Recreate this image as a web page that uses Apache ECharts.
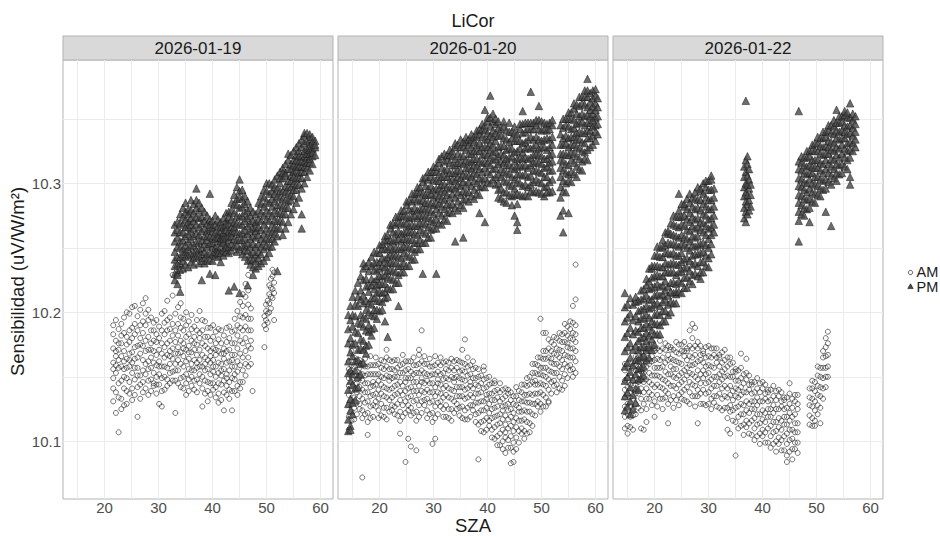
<!DOCTYPE html>
<html>
<head>
<meta charset="utf-8">
<script src="https://cdn.jsdelivr.net/npm/echarts@6/dist/echarts.min.js"></script>
<style>
html,body{margin:0;padding:0;background:#fff;}
#chart{width:940px;height:536px;}
</style>
</head>
<body>
<div id="chart"></div>
<script>
// Facet labels and axis ticks
const panels = ['2026-01-19', '2026-01-20', '2026-01-22'];
const xTicks = [20, 30, 40, 50, 60];
const yTicks = [10.1, 10.2, 10.3];
const xGridValues = [15, 20, 25, 30, 35, 40, 45, 50, 55, 60];
const yGridValues = [10.1, 10.15, 10.2, 10.25, 10.3, 10.35];

// Readings grouped by SZA: each row is [SZA, sensitivity, sensitivity, ...]
const am19 = [
[21.6,10.183,10.161,10.149,10.172,10.131,10.190,10.156,10.141],
[22.1,10.194,10.166,10.153,10.178,10.138,10.122,10.159,10.170],
[22.6,10.187,10.157,10.145,10.171,10.107,10.163,10.176,10.134],
[23.1,10.176,10.191,10.133,10.166,10.147,10.125,10.182,10.158],
[23.6,10.196,10.170,10.156,10.141,10.184,10.162,10.128,10.150],
[24.1,10.181,10.164,10.149,10.129,10.175,10.200,10.157,10.139],
[24.6,10.199,10.177,10.158,10.137,10.168,10.146,10.186,10.163],
[25.1,10.188,10.169,10.153,10.204,10.141,10.180,10.161,10.132],
[25.6,10.205,10.183,10.164,10.148,10.136,10.173,10.157,10.191],
[26.1,10.197,10.174,10.157,10.142,10.186,10.119,10.165,10.151],
[26.6,10.190,10.168,10.151,10.133,10.180,10.202,10.144,10.175],
[27.1,10.207,10.184,10.163,10.146,10.174,10.155,10.193,10.138],
[27.6,10.211,10.190,10.170,10.141,10.178,10.160,10.199,10.152],
[28.1,10.202,10.181,10.162,10.147,10.171,10.136,10.194,10.156],
[28.6,10.196,10.176,10.157,10.139,10.186,10.165,10.148,10.171],
[29.1,10.186,10.170,10.153,10.143,10.161,10.178,10.145,10.192],
[29.6,10.194,10.177,10.159,10.137,10.167,10.150,10.183,10.144],
[30.1,10.189,10.171,10.152,10.129,10.162,10.180,10.144,10.158],
[30.6,10.199,10.176,10.158,10.127,10.168,10.186,10.149,10.139],
[31.1,10.201,10.183,10.165,10.150,10.173,10.140,10.158,10.192],
[31.6,10.209,10.186,10.167,10.148,10.176,10.194,10.157,10.143],
[32.1,10.196,10.178,10.160,10.145,10.187,10.170,10.153,10.166],
[32.6,10.213,10.191,10.172,10.154,10.229,10.182,10.164,10.147],
[33.1,10.199,10.177,10.160,10.122,10.168,10.186,10.147,10.155],
[33.6,10.204,10.182,10.163,10.145,10.173,10.155,10.191,10.168],
[34.1,10.207,10.188,10.169,10.149,10.178,10.160,10.196,10.142],
[34.6,10.195,10.176,10.158,10.141,10.186,10.166,10.150,10.172],
[35.1,10.200,10.181,10.162,10.136,10.171,10.152,10.190,10.145],
[35.6,10.193,10.174,10.156,10.139,10.183,10.164,10.148,10.169],
[36.1,10.198,10.178,10.160,10.143,10.169,10.150,10.187,10.155],
[36.6,10.189,10.171,10.155,10.140,10.181,10.163,10.147,10.176],
[37.1,10.194,10.175,10.157,10.138,10.167,10.186,10.148,10.161],
[37.6,10.201,10.180,10.163,10.145,10.171,10.152,10.158,10.184],
[38.1,10.186,10.167,10.150,10.127,10.176,10.158,10.194,10.141],
[38.6,10.193,10.174,10.155,10.137,10.165,10.147,10.181,10.160],
[39.1,10.181,10.163,10.146,10.131,10.172,10.156,10.188,10.139],
[39.6,10.188,10.170,10.152,10.136,10.161,10.178,10.145,10.166],
[40.1,10.190,10.172,10.154,10.140,10.163,10.145,10.181,10.158],
[40.6,10.185,10.167,10.150,10.134,10.176,10.158,10.142,10.171],
[41.1,10.179,10.161,10.145,10.130,10.170,10.153,10.187,10.137],
[41.6,10.186,10.168,10.151,10.132,10.160,10.176,10.144,10.155],
[42.1,10.182,10.164,10.147,10.124,10.172,10.156,10.138,10.168],
[42.6,10.188,10.170,10.152,10.136,10.161,10.143,10.177,10.149],
[43.1,10.180,10.162,10.146,10.133,10.171,10.155,10.189,10.140],
[43.6,10.185,10.167,10.149,10.124,10.176,10.158,10.139,10.163],
[44.1,10.195,10.176,10.158,10.139,10.167,10.148,10.186,10.152],
[44.6,10.201,10.182,10.162,10.143,10.172,10.154,10.190,10.136],
[45.1,10.208,10.188,10.168,10.146,10.178,10.159,10.197,10.141],
[45.6,10.214,10.196,10.176,10.155,10.205,10.186,10.165,10.146],
[46.1,10.212,10.198,10.180,10.160,10.222,10.189,10.170,10.151],
[46.6,10.229,10.206,10.186,10.165,10.195,10.174,10.217,10.158],
[47.1,10.203,10.186,10.172,10.160,10.195,10.178],
[47.4,10.139],
[49.6,10.190,10.197,10.173],
[49.9,10.194,10.201,10.187,10.206],
[50.2,10.199,10.209,10.192],
[50.5,10.207,10.214,10.221,10.200],
[50.8,10.212,10.219,10.226,10.203],
[51.1,10.218,10.228,10.233,10.211],
[51.4,10.223,10.231,10.194,10.215]
];

const pm19 = [
[33.0,10.262,10.247,10.236,10.225,10.255,10.241,10.268,10.230],
[33.5,10.270,10.258,10.243,10.231,10.222,10.264,10.229,10.251,10.237],
[34.0,10.276,10.262,10.250,10.238,10.216,10.255,10.243,10.269,10.233],
[34.5,10.281,10.268,10.256,10.245,10.234,10.262,10.274,10.249,10.240],
[35.0,10.285,10.272,10.259,10.247,10.237,10.266,10.252,10.278,10.243],
[35.5,10.280,10.270,10.255,10.244,10.235,10.276,10.261,10.249,10.266],
[36.0,10.287,10.273,10.263,10.251,10.239,10.268,10.257,10.279,10.245],
[36.5,10.284,10.271,10.259,10.246,10.237,10.277,10.265,10.252,10.242],
[37.0,10.296,10.281,10.268,10.254,10.243,10.261,10.274,10.248,10.287],
[37.5,10.285,10.273,10.260,10.249,10.238,10.266,10.255,10.279,10.244],
[38.0,10.281,10.269,10.256,10.245,10.225,10.263,10.274,10.250,10.240],
[38.5,10.278,10.265,10.253,10.242,10.259,10.247,10.271,10.238],
[39.0,10.275,10.263,10.251,10.240,10.269,10.256,10.245,10.259],
[39.5,10.292,10.272,10.259,10.246,10.265,10.253,10.230,10.268,10.241],
[40.0,10.271,10.258,10.245,10.263,10.251,10.240,10.266,10.254],
[40.5,10.268,10.257,10.244,10.229,10.262,10.250,10.275,10.247],
[41.0,10.267,10.255,10.243,10.261,10.249,10.272,10.258,10.246],
[41.5,10.270,10.258,10.246,10.263,10.251,10.239,10.266,10.255],
[42.0,10.266,10.254,10.244,10.260,10.273,10.248,10.257,10.262],
[42.5,10.271,10.258,10.247,10.264,10.252,10.277,10.250,10.268],
[43.0,10.278,10.263,10.251,10.269,10.256,10.217,10.246,10.274,10.259],
[43.5,10.285,10.272,10.259,10.248,10.266,10.279,10.253,10.262],
[44.0,10.291,10.277,10.263,10.251,10.270,10.284,10.220,10.257,10.266],
[44.5,10.297,10.283,10.269,10.256,10.247,10.275,10.288,10.262,10.252],
[45.0,10.303,10.289,10.274,10.261,10.249,10.281,10.215,10.268,10.294,10.256],
[45.5,10.295,10.282,10.268,10.256,10.245,10.275,10.288,10.262,10.251],
[46.0,10.290,10.277,10.264,10.252,10.243,10.271,10.284,10.258,10.248],
[46.5,10.286,10.273,10.261,10.248,10.240,10.267,10.221,10.279,10.254],
[47.0,10.281,10.269,10.257,10.245,10.237,10.263,10.275,10.251,10.241],
[47.5,10.278,10.265,10.253,10.241,10.235,10.259,10.229,10.271,10.247],
[48.0,10.276,10.263,10.251,10.240,10.234,10.258,10.270,10.245,10.266],
[48.5,10.279,10.266,10.253,10.242,10.236,10.260,10.272,10.247,10.285],
[49.0,10.284,10.271,10.257,10.245,10.238,10.264,10.277,10.251,10.290],
[49.5,10.289,10.275,10.261,10.249,10.240,10.268,10.282,10.255,10.295],
[50.0,10.294,10.279,10.265,10.252,10.243,10.272,10.286,10.258,10.300],
[50.5,10.300,10.285,10.271,10.257,10.246,10.277,10.292,10.263,10.251],
[51.0,10.299,10.288,10.275,10.262,10.251,10.282,10.294,10.268,10.257],
[51.5,10.303,10.292,10.279,10.266,10.255,10.286,10.297,10.272,10.261],
[52.0,10.306,10.296,10.283,10.271,10.259,10.232,10.290,10.277,10.265],
[52.5,10.309,10.300,10.289,10.277,10.265,10.294,10.283,10.271,10.304],
[53.0,10.312,10.304,10.294,10.282,10.270,10.260,10.288,10.276,10.308],
[53.5,10.308,10.306,10.298,10.287,10.276,10.265,10.293,10.281,10.315],
[54.0,10.318,10.311,10.302,10.292,10.281,10.270,10.297,10.286,10.323],
[54.5,10.322,10.315,10.306,10.297,10.287,10.276,10.302,10.291,10.311],
[55.0,10.325,10.318,10.309,10.300,10.290,10.280,10.305,10.295,10.314],
[55.5,10.328,10.322,10.313,10.304,10.295,10.285,10.310,10.299,10.318],
[56.0,10.331,10.325,10.317,10.308,10.299,10.289,10.313,10.304,10.321],
[56.5,10.334,10.328,10.321,10.313,10.304,10.265,10.276,10.296,10.317,10.309],
[57.0,10.337,10.331,10.325,10.317,10.309,10.300,10.321,10.313,10.339],
[57.5,10.339,10.333,10.327,10.320,10.312,10.305,10.323,10.316],
[58.0,10.338,10.334,10.329,10.323,10.316,10.310,10.326,10.319],
[58.5,10.336,10.332,10.327,10.321,10.315,10.324],
[59.0,10.333,10.328,10.322,10.330]
];

const am20 = [
[14.3,10.119,10.128,10.136,10.143,10.149,10.156,10.162,10.109],
[14.8,10.123,10.132,10.139,10.146,10.153,10.159,10.116,10.170],
[15.3,10.117,10.126,10.134,10.141,10.151,10.158,10.165],
[15.8,10.121,10.130,10.138,10.145,10.148,10.154,10.161],
[16.3,10.125,10.129,10.135,10.142,10.150,10.157,10.163],
[16.8,10.118,10.124,10.133,10.140,10.147,10.152,10.160,10.072],
[17.3,10.121,10.130,10.138,10.145,10.151,10.158,10.164],
[17.8,10.122,10.131,10.138,10.145,10.152,10.158,10.115,10.105],
[18.3,10.118,10.127,10.135,10.142,10.152,10.159,10.166],
[18.8,10.119,10.128,10.136,10.143,10.146,10.152,10.159],
[19.3,10.127,10.131,10.137,10.144,10.152,10.159,10.165],
[19.8,10.118,10.124,10.133,10.140,10.147,10.152,10.160],
[20.3,10.120,10.129,10.137,10.144,10.150,10.157,10.163],
[20.8,10.126,10.135,10.142,10.149,10.156,10.162,10.119],
[21.3,10.117,10.126,10.134,10.141,10.151,10.158,10.165,10.171],
[21.8,10.123,10.132,10.140,10.147,10.150,10.156,10.163],
[22.3,10.124,10.128,10.134,10.141,10.149,10.156,10.162],
[22.8,10.121,10.127,10.136,10.143,10.150,10.155,10.163],
[23.3,10.120,10.129,10.137,10.144,10.150,10.157,10.163],
[23.8,10.123,10.132,10.139,10.146,10.153,10.159,10.116,10.106],
[24.3,10.119,10.128,10.136,10.143,10.153,10.160,10.167],
[24.8,10.122,10.131,10.139,10.146,10.149,10.155,10.162,10.084],
[25.3,10.124,10.128,10.134,10.141,10.149,10.156,10.162,10.102],
[25.8,10.120,10.126,10.135,10.142,10.149,10.154,10.162,10.096],
[26.3,10.122,10.131,10.139,10.146,10.152,10.159,10.165],
[26.8,10.123,10.132,10.139,10.146,10.153,10.159,10.116,10.093],
[27.3,10.119,10.128,10.136,10.143,10.153,10.160,10.167,10.171],
[27.8,10.122,10.131,10.139,10.146,10.149,10.155,10.162,10.186],
[28.3,10.128,10.132,10.138,10.145,10.153,10.160,10.166],
[28.8,10.118,10.124,10.133,10.140,10.147,10.152,10.160],
[29.3,10.121,10.130,10.138,10.145,10.151,10.158,10.164],
[29.8,10.122,10.131,10.138,10.145,10.152,10.158,10.115,10.098],
[30.3,10.118,10.127,10.135,10.142,10.152,10.159,10.166,10.102],
[30.8,10.121,10.130,10.138,10.145,10.148,10.154,10.161],
[31.3,10.127,10.131,10.137,10.144,10.152,10.159,10.165],
[31.8,10.119,10.125,10.134,10.141,10.148,10.153,10.161],
[32.3,10.119,10.128,10.136,10.143,10.149,10.156,10.162],
[32.8,10.125,10.134,10.141,10.148,10.155,10.161,10.118],
[33.3,10.116,10.125,10.133,10.140,10.150,10.157,10.164],
[33.8,10.122,10.131,10.139,10.146,10.149,10.155,10.162],
[34.3,10.125,10.129,10.135,10.142,10.150,10.157,10.163],
[34.8,10.120,10.126,10.135,10.142,10.149,10.154,10.162],
[35.3,10.118,10.127,10.135,10.142,10.148,10.155,10.161,10.171],
[35.8,10.124,10.133,10.140,10.147,10.154,10.160,10.117,10.179],
[36.3,10.117,10.126,10.134,10.141,10.151,10.158,10.165],
[36.8,10.119,10.128,10.136,10.143,10.146,10.152,10.159],
[37.3,10.124,10.128,10.134,10.141,10.149,10.156,10.162],
[37.8,10.115,10.121,10.130,10.137,10.144,10.149,10.157],
[38.3,10.113,10.122,10.130,10.137,10.143,10.150,10.156,10.086],
[38.8,10.115,10.124,10.131,10.138,10.145,10.151,10.108],
[39.3,10.107,10.116,10.124,10.131,10.141,10.148,10.155,10.158],
[39.8,10.109,10.118,10.126,10.133,10.136,10.142,10.149],
[40.3,10.112,10.116,10.122,10.129,10.137,10.144,10.150],
[40.8,10.103,10.109,10.118,10.125,10.132,10.137,10.145],
[41.3,10.102,10.111,10.119,10.126,10.132,10.139,10.145,10.147],
[41.8,10.104,10.113,10.120,10.127,10.134,10.140,10.097],
[42.3,10.097,10.106,10.114,10.121,10.131,10.138,10.145],
[42.8,10.100,10.109,10.117,10.124,10.127,10.133,10.140,10.094],
[43.3,10.103,10.107,10.113,10.120,10.128,10.135,10.141,10.091],
[43.8,10.095,10.101,10.110,10.117,10.124,10.129,10.137,10.140],
[44.3,10.095,10.104,10.112,10.119,10.125,10.132,10.138,10.083],
[44.8,10.099,10.108,10.115,10.122,10.129,10.135,10.092,10.084],
[45.3,10.094,10.103,10.111,10.118,10.128,10.135,10.142],
[45.8,10.099,10.108,10.116,10.123,10.126,10.132,10.139],
[46.3,10.106,10.110,10.116,10.123,10.131,10.138,10.144],
[46.8,10.102,10.108,10.117,10.124,10.131,10.136,10.144],
[47.3,10.106,10.115,10.123,10.130,10.136,10.143,10.149],
[47.8,10.114,10.123,10.130,10.137,10.144,10.150,10.107],
[48.3,10.112,10.121,10.129,10.136,10.146,10.153,10.160],
[48.8,10.120,10.129,10.137,10.144,10.147,10.153,10.160],
[49.3,10.127,10.131,10.137,10.144,10.152,10.159,10.165],
[49.8,10.123,10.129,10.138,10.145,10.152,10.157,10.165,10.195],
[50.3,10.127,10.136,10.144,10.151,10.157,10.164,10.170,10.184],
[50.8,10.134,10.143,10.150,10.157,10.164,10.170,10.127,10.184],
[51.3,10.131,10.140,10.148,10.155,10.165,10.172,10.179,10.130],
[51.8,10.137,10.146,10.154,10.161,10.164,10.170,10.177],
[52.3,10.143,10.147,10.153,10.160,10.168,10.175,10.181],
[52.8,10.138,10.144,10.153,10.160,10.167,10.172,10.180],
[53.3,10.141,10.150,10.158,10.165,10.171,10.178,10.184],
[53.8,10.147,10.156,10.163,10.170,10.177,10.183,10.140],
[54.3,10.143,10.152,10.160,10.167,10.177,10.184,10.191],
[54.8,10.149,10.158,10.166,10.173,10.176,10.182,10.189],
[55.3,10.155,10.159,10.165,10.172,10.180,10.187,10.193],
[55.8,10.150,10.156,10.165,10.172,10.179,10.184,10.192,10.205],
[56.3,10.153,10.162,10.170,10.177,10.183,10.190,10.237,10.210]
];

const pm20 = [
[14.2,10.108,10.117,10.129,10.140,10.153,10.162,10.176,10.187,10.198],
[14.6,10.112,10.124,10.133,10.147,10.155,10.169,10.180,10.194,10.205,10.109],
[15.0,10.121,10.130,10.144,10.152,10.166,10.175,10.189,10.198,10.212],
[15.5,10.132,10.141,10.155,10.162,10.176,10.185,10.197,10.206,10.217],
[16.0,10.142,10.150,10.163,10.171,10.184,10.192,10.205,10.212,10.223],
[16.5,10.152,10.160,10.172,10.179,10.191,10.198,10.210,10.217,10.228],
[17.0,10.161,10.171,10.178,10.189,10.196,10.207,10.213,10.225,10.234,10.238],
[17.5,10.168,10.174,10.186,10.195,10.202,10.209,10.220,10.226,10.236],
[18.0,10.175,10.185,10.190,10.200,10.207,10.216,10.221,10.232,10.239],
[18.5,10.182,10.187,10.198,10.206,10.211,10.221,10.226,10.236,10.243],
[19.0,10.188,10.197,10.202,10.211,10.218,10.224,10.233,10.238,10.247],
[19.5,10.195,10.202,10.209,10.215,10.221,10.226,10.232,10.239,10.246],
[20.0,10.201,10.209,10.216,10.222,10.228,10.234,10.239,10.246,10.252],
[20.5,10.202,10.208,10.215,10.222,10.228,10.236,10.242,10.249,10.253],
[21.0,10.211,10.216,10.222,10.229,10.235,10.241,10.249,10.255,10.259,10.193],
[21.5,10.212,10.219,10.227,10.232,10.238,10.243,10.249,10.256,10.260,10.181],
[22.0,10.218,10.226,10.233,10.239,10.245,10.251,10.256,10.265,10.268],
[22.5,10.218,10.225,10.232,10.238,10.244,10.249,10.255,10.262,10.269],
[23.0,10.223,10.231,10.238,10.244,10.250,10.256,10.261,10.268,10.274],
[23.5,10.223,10.229,10.236,10.243,10.249,10.257,10.263,10.270,10.274,10.205],
[24.0,10.231,10.236,10.242,10.249,10.255,10.261,10.269,10.275,10.279],
[24.5,10.231,10.238,10.246,10.251,10.257,10.262,10.268,10.275,10.279],
[25.0,10.236,10.244,10.251,10.257,10.263,10.269,10.274,10.283,10.286],
[25.5,10.236,10.243,10.250,10.256,10.262,10.267,10.273,10.280,10.287],
[26.0,10.241,10.249,10.256,10.262,10.268,10.274,10.279,10.286,10.292],
[26.5,10.241,10.247,10.254,10.261,10.267,10.275,10.281,10.288,10.292],
[27.0,10.249,10.254,10.260,10.267,10.273,10.279,10.287,10.293,10.297],
[27.5,10.249,10.256,10.264,10.269,10.275,10.280,10.286,10.293,10.297],
[28.0,10.254,10.262,10.269,10.275,10.281,10.287,10.292,10.301,10.304,10.230],
[28.5,10.254,10.261,10.268,10.274,10.280,10.285,10.291,10.298,10.305],
[29.0,10.258,10.266,10.273,10.279,10.285,10.291,10.296,10.303,10.309],
[29.5,10.258,10.264,10.271,10.278,10.284,10.292,10.298,10.305,10.309],
[30.0,10.265,10.270,10.276,10.283,10.289,10.295,10.303,10.309,10.313],
[30.5,10.265,10.272,10.280,10.285,10.291,10.296,10.302,10.309,10.313,10.230],
[31.0,10.269,10.277,10.284,10.290,10.296,10.302,10.307,10.316,10.319],
[31.5,10.268,10.275,10.282,10.288,10.294,10.299,10.305,10.312,10.321],
[32.0,10.272,10.280,10.287,10.293,10.299,10.305,10.310,10.317,10.323],
[32.5,10.271,10.277,10.284,10.291,10.297,10.305,10.311,10.318,10.322],
[33.0,10.278,10.283,10.289,10.296,10.302,10.308,10.316,10.322,10.326],
[33.5,10.277,10.284,10.292,10.297,10.303,10.308,10.314,10.321,10.325],
[34.0,10.281,10.289,10.296,10.302,10.308,10.314,10.319,10.328,10.331,10.255],
[34.5,10.279,10.286,10.293,10.299,10.305,10.310,10.316,10.323,10.330],
[35.0,10.283,10.291,10.298,10.304,10.310,10.316,10.321,10.328,10.334],
[35.5,10.281,10.287,10.294,10.301,10.307,10.315,10.321,10.328,10.332,10.258],
[36.0,10.288,10.293,10.299,10.306,10.312,10.318,10.326,10.332,10.336],
[36.5,10.286,10.293,10.301,10.306,10.312,10.317,10.323,10.330,10.334],
[37.0,10.290,10.298,10.305,10.311,10.317,10.323,10.328,10.334,10.338],
[37.5,10.288,10.295,10.302,10.308,10.314,10.319,10.325,10.332,10.336],
[38.0,10.292,10.300,10.307,10.313,10.319,10.325,10.330,10.337,10.341],
[38.5,10.291,10.297,10.304,10.311,10.317,10.325,10.331,10.338,10.342,10.277],
[39.0,10.298,10.303,10.309,10.316,10.322,10.328,10.336,10.342,10.346],
[39.5,10.297,10.304,10.312,10.317,10.323,10.328,10.334,10.341,10.345,10.270,10.357],
[40.0,10.301,10.309,10.316,10.322,10.328,10.334,10.339,10.348,10.351],
[40.5,10.300,10.307,10.314,10.320,10.326,10.331,10.337,10.344,10.351,10.368],
[41.0,10.303,10.311,10.318,10.324,10.330,10.336,10.341,10.348,10.354],
[41.5,10.299,10.305,10.312,10.319,10.325,10.333,10.339,10.346,10.350],
[42.0,10.295,10.300,10.307,10.315,10.321,10.328,10.337,10.343,10.348,10.289],
[42.5,10.288,10.296,10.305,10.311,10.317,10.323,10.329,10.337,10.342],
[43.0,10.293,10.302,10.309,10.316,10.322,10.329,10.335,10.344,10.348,10.286],
[43.5,10.285,10.293,10.301,10.308,10.314,10.319,10.326,10.334,10.341],
[44.0,10.291,10.299,10.307,10.314,10.320,10.327,10.332,10.340,10.347],
[44.5,10.283,10.290,10.298,10.305,10.312,10.321,10.327,10.335,10.340],
[45.0,10.291,10.296,10.303,10.311,10.317,10.324,10.333,10.339,10.344,10.275],
[45.5,10.284,10.292,10.301,10.307,10.313,10.319,10.325,10.333,10.338,10.264,10.270],
[46.0,10.291,10.300,10.307,10.314,10.320,10.327,10.333,10.342,10.346],
[46.5,10.290,10.298,10.306,10.313,10.319,10.324,10.331,10.339,10.346,10.356],
[47.0,10.291,10.299,10.307,10.314,10.320,10.327,10.332,10.340,10.347],
[47.5,10.290,10.297,10.305,10.312,10.319,10.328,10.334,10.342,10.347],
[48.0,10.294,10.299,10.306,10.314,10.320,10.327,10.336,10.342,10.347,10.371],
[48.5,10.293,10.301,10.310,10.316,10.322,10.328,10.334,10.342,10.347],
[49.0,10.294,10.303,10.310,10.317,10.323,10.330,10.336,10.345,10.349],
[49.5,10.293,10.301,10.309,10.316,10.322,10.327,10.334,10.342,10.349,10.360],
[50.0,10.292,10.300,10.308,10.315,10.321,10.328,10.333,10.341,10.348],
[50.5,10.290,10.297,10.305,10.312,10.319,10.328,10.334,10.342,10.347],
[51.0,10.293,10.298,10.305,10.313,10.319,10.326,10.335,10.341,10.346],
[51.5,10.293,10.301,10.310,10.316,10.322,10.328,10.334,10.342,10.347],
[52.0,10.294,10.303,10.310,10.317,10.323,10.330,10.336,10.345,10.349],
[53.5,10.289,10.297,10.305,10.312,10.318,10.323,10.330,10.338,10.345,10.275],
[54.0,10.294,10.302,10.310,10.317,10.323,10.330,10.335,10.343,10.350,10.262,10.279],
[54.5,10.293,10.300,10.308,10.315,10.322,10.331,10.337,10.345,10.350],
[55.0,10.302,10.307,10.314,10.322,10.328,10.335,10.344,10.350,10.355,10.277],
[55.5,10.301,10.309,10.318,10.324,10.330,10.336,10.342,10.350,10.355],
[56.0,10.307,10.316,10.323,10.330,10.336,10.343,10.349,10.358,10.362],
[56.5,10.305,10.313,10.321,10.328,10.334,10.339,10.346,10.354,10.361],
[57.0,10.311,10.319,10.327,10.334,10.340,10.347,10.352,10.360,10.367],
[57.5,10.310,10.317,10.325,10.332,10.339,10.348,10.354,10.362,10.367],
[58.0,10.319,10.324,10.331,10.339,10.345,10.352,10.361,10.367,10.372],
[58.5,10.318,10.326,10.335,10.341,10.347,10.353,10.359,10.367,10.372,10.381],
[59.0,10.328,10.335,10.341,10.347,10.352,10.357,10.363,10.370],
[59.5,10.330,10.337,10.344,10.349,10.354,10.360,10.366,10.372],
[60.0,10.333,10.340,10.345,10.351,10.357,10.362,10.368,10.373],
[60.4,10.338,10.346,10.352,10.359,10.366]
];

const am22 = [
[14.5,10.110,10.119,10.127,10.134,10.140,10.147,10.155,10.160],
[15.0,10.112,10.121,10.129,10.136,10.142,10.149,10.157,10.106],
[15.5,10.111,10.119,10.127,10.134,10.144,10.151,10.158],
[16.0,10.120,10.125,10.133,10.140,10.147,10.157,10.162,10.109],
[16.5,10.121,10.129,10.137,10.144,10.155,10.159,10.166],
[17.0,10.126,10.137,10.146,10.152,10.158,10.165,10.167],
[17.5,10.124,10.133,10.141,10.148,10.154,10.161,10.169,10.110],
[18.0,10.129,10.138,10.146,10.153,10.159,10.166,10.174,10.109],
[18.5,10.125,10.133,10.141,10.148,10.158,10.165,10.172,10.115],
[19.0,10.133,10.138,10.146,10.153,10.160,10.170,10.175],
[19.5,10.128,10.136,10.144,10.151,10.162,10.166,10.173],
[20.0,10.131,10.142,10.151,10.157,10.163,10.170,10.172,10.119],
[20.5,10.127,10.136,10.144,10.151,10.157,10.164,10.172],
[21.0,10.133,10.142,10.150,10.157,10.163,10.170,10.178],
[21.5,10.125,10.133,10.141,10.148,10.158,10.165,10.172],
[22.0,10.134,10.139,10.147,10.154,10.161,10.171,10.176],
[22.5,10.129,10.137,10.145,10.152,10.163,10.167,10.174,10.114],
[23.0,10.132,10.143,10.152,10.158,10.164,10.171,10.173],
[23.5,10.126,10.135,10.143,10.150,10.156,10.163,10.171],
[24.0,10.132,10.141,10.149,10.156,10.162,10.169,10.177],
[24.5,10.128,10.136,10.144,10.151,10.161,10.168,10.175],
[25.0,10.133,10.138,10.146,10.153,10.160,10.170,10.175],
[25.5,10.132,10.140,10.148,10.155,10.166,10.170,10.177],
[26.0,10.131,10.142,10.151,10.157,10.163,10.170,10.172],
[26.5,10.129,10.138,10.146,10.153,10.159,10.166,10.174,10.186],
[27.0,10.135,10.144,10.152,10.159,10.165,10.172,10.180,10.191],
[27.5,10.127,10.135,10.143,10.150,10.160,10.167,10.174,10.188],
[28.0,10.135,10.140,10.148,10.155,10.162,10.172,10.177,10.114],
[28.5,10.129,10.137,10.145,10.152,10.163,10.167,10.174],
[29.0,10.129,10.140,10.149,10.155,10.161,10.168,10.170],
[29.5,10.128,10.137,10.145,10.152,10.158,10.165,10.173],
[30.0,10.129,10.138,10.146,10.153,10.159,10.166,10.174],
[30.5,10.125,10.133,10.141,10.148,10.158,10.165,10.172],
[31.0,10.130,10.135,10.143,10.150,10.157,10.167,10.172],
[31.5,10.127,10.135,10.143,10.150,10.161,10.165,10.172],
[32.0,10.126,10.137,10.146,10.152,10.158,10.165,10.167],
[32.5,10.124,10.133,10.141,10.148,10.154,10.161,10.169],
[33.0,10.126,10.135,10.143,10.150,10.156,10.163,10.171],
[33.5,10.118,10.126,10.134,10.141,10.151,10.158,10.165,10.109],
[34.0,10.123,10.128,10.136,10.143,10.150,10.160,10.165,10.106],
[34.5,10.116,10.124,10.132,10.139,10.150,10.154,10.161],
[35.0,10.115,10.126,10.135,10.141,10.147,10.154,10.156,10.089],
[35.5,10.110,10.119,10.127,10.134,10.140,10.147,10.155],
[36.0,10.112,10.121,10.129,10.136,10.142,10.149,10.157,10.168],
[36.5,10.105,10.113,10.121,10.128,10.138,10.145,10.152],
[37.0,10.111,10.116,10.124,10.131,10.138,10.148,10.153,10.164],
[37.5,10.106,10.114,10.122,10.129,10.140,10.144,10.151],
[38.0,10.105,10.116,10.125,10.131,10.137,10.144,10.146],
[38.5,10.101,10.110,10.118,10.125,10.131,10.138,10.146],
[39.0,10.104,10.113,10.121,10.128,10.134,10.141,10.149],
[39.5,10.098,10.106,10.114,10.121,10.131,10.138,10.145],
[40.0,10.104,10.109,10.117,10.124,10.131,10.141,10.146],
[40.5,10.099,10.107,10.115,10.122,10.133,10.137,10.144],
[41.0,10.099,10.110,10.119,10.125,10.131,10.138,10.140],
[41.5,10.095,10.104,10.112,10.119,10.125,10.132,10.140],
[42.0,10.098,10.107,10.115,10.122,10.128,10.135,10.143],
[42.5,10.092,10.100,10.108,10.115,10.125,10.132,10.139],
[43.0,10.098,10.103,10.111,10.118,10.125,10.135,10.140],
[43.5,10.093,10.101,10.109,10.116,10.127,10.131,10.138],
[44.0,10.093,10.104,10.113,10.119,10.125,10.132,10.134],
[44.5,10.089,10.098,10.106,10.113,10.119,10.126,10.134,10.084],
[45.0,10.092,10.101,10.109,10.116,10.122,10.129,10.137,10.145],
[45.5,10.086,10.094,10.102,10.109,10.119,10.126,10.133],
[46.0,10.094,10.099,10.107,10.114,10.121,10.131,10.136],
[46.5,10.091,10.099,10.107,10.114,10.125,10.129,10.136],
[48.7,10.113,10.120,10.128,10.134,10.141],
[49.2,10.112,10.118,10.127,10.133,10.141,10.147],
[49.7,10.116,10.124,10.131,10.139,10.146,10.112],
[50.2,10.121,10.128,10.136,10.143,10.151,10.158],
[50.7,10.126,10.135,10.142,10.150,10.157,10.114],
[51.2,10.133,10.141,10.149,10.157,10.165,10.170],
[51.7,10.142,10.150,10.157,10.166,10.173,10.180],
[52.1,10.150,10.158,10.167,10.176,10.185]
];

const pm22 = [
[14.5,10.124,10.135,10.147,10.158,10.170,10.181,10.193,10.204,10.215],
[15.0,10.127,10.138,10.150,10.161,10.173,10.184,10.196,10.206],
[15.5,10.121,10.131,10.142,10.154,10.165,10.176,10.188,10.199,10.211],
[16.0,10.125,10.136,10.148,10.159,10.171,10.183,10.194,10.206],
[16.5,10.130,10.141,10.152,10.163,10.174,10.186,10.197,10.208,10.212],
[17.0,10.140,10.148,10.156,10.163,10.171,10.178,10.185,10.193,10.201,10.209],
[17.5,10.149,10.157,10.165,10.173,10.180,10.188,10.195,10.202,10.210,10.217],
[18.0,10.151,10.158,10.166,10.173,10.181,10.188,10.196,10.203,10.211,10.218],
[18.5,10.163,10.171,10.178,10.184,10.191,10.198,10.205,10.213,10.221,10.226],
[19.0,10.165,10.173,10.182,10.189,10.196,10.203,10.210,10.218,10.224,10.234],
[19.5,10.171,10.179,10.186,10.193,10.204,10.210,10.219,10.227,10.234,10.236],
[20.0,10.175,10.183,10.191,10.198,10.206,10.213,10.220,10.228,10.236,10.244],
[20.5,10.183,10.191,10.199,10.207,10.214,10.222,10.229,10.236,10.244,10.251],
[21.0,10.183,10.190,10.198,10.205,10.213,10.220,10.228,10.235,10.243,10.250],
[21.5,10.193,10.201,10.208,10.214,10.221,10.228,10.235,10.243,10.251,10.256],
[22.0,10.193,10.201,10.210,10.217,10.224,10.231,10.238,10.246,10.252,10.262],
[22.5,10.198,10.206,10.213,10.220,10.231,10.237,10.246,10.254,10.261,10.263],
[23.0,10.200,10.208,10.216,10.223,10.231,10.238,10.245,10.253,10.261,10.269],
[23.5,10.207,10.215,10.223,10.231,10.238,10.246,10.253,10.260,10.268,10.275],
[24.0,10.207,10.214,10.222,10.229,10.237,10.244,10.252,10.259,10.267,10.274,10.216],
[24.5,10.216,10.224,10.231,10.237,10.244,10.251,10.258,10.266,10.274,10.279,10.292],
[25.0,10.215,10.223,10.232,10.239,10.246,10.253,10.260,10.268,10.274,10.284],
[25.5,10.219,10.227,10.234,10.241,10.252,10.258,10.267,10.275,10.282,10.284],
[26.0,10.219,10.227,10.235,10.242,10.250,10.257,10.264,10.272,10.280,10.288],
[26.5,10.224,10.232,10.240,10.248,10.255,10.263,10.270,10.277,10.285,10.292],
[27.0,10.222,10.229,10.237,10.244,10.252,10.259,10.267,10.274,10.282,10.289],
[27.5,10.230,10.238,10.245,10.251,10.258,10.265,10.272,10.280,10.288,10.293],
[28.0,10.228,10.236,10.245,10.252,10.259,10.266,10.273,10.281,10.287,10.297],
[28.5,10.231,10.239,10.246,10.253,10.264,10.270,10.279,10.287,10.294,10.296,10.226],
[29.0,10.231,10.239,10.247,10.254,10.262,10.269,10.276,10.284,10.292,10.300],
[29.5,10.236,10.244,10.252,10.260,10.267,10.275,10.282,10.289,10.297,10.302],
[30.0,10.235,10.242,10.250,10.257,10.265,10.272,10.280,10.287,10.295,10.302],
[30.5,10.245,10.253,10.260,10.266,10.273,10.280,10.287,10.295,10.303,10.306],
[31.0,10.262,10.268,10.275,10.282,10.289,10.296],
[36.6,10.273,10.281,10.290,10.297,10.305,10.313],
[36.9,10.270,10.278,10.286,10.293,10.300,10.309,10.318,10.364],
[37.2,10.276,10.284,10.291,10.299,10.306,10.315,10.321],
[37.5,10.279,10.287,10.296,10.303,10.311],
[37.8,10.282,10.291,10.299],
[46.7,10.271,10.278,10.285,10.291,10.298,10.304,10.311,10.317,10.356,10.255],
[47.2,10.276,10.283,10.290,10.297,10.303,10.310,10.316,10.321],
[47.7,10.275,10.281,10.288,10.295,10.301,10.308,10.314,10.320],
[48.2,10.280,10.287,10.293,10.300,10.307,10.313,10.320,10.325],
[48.7,10.281,10.288,10.296,10.303,10.308,10.314,10.321,10.325,10.270],
[49.2,10.286,10.293,10.300,10.308,10.313,10.318,10.326,10.330],
[49.7,10.285,10.292,10.299,10.305,10.312,10.318,10.325,10.331],
[50.2,10.291,10.298,10.305,10.312,10.318,10.325,10.331,10.336],
[50.7,10.290,10.296,10.303,10.310,10.316,10.323,10.329,10.335],
[51.2,10.295,10.302,10.308,10.315,10.322,10.328,10.335,10.340],
[51.7,10.296,10.303,10.311,10.318,10.323,10.329,10.336,10.340,10.278],
[52.2,10.301,10.308,10.315,10.323,10.328,10.333,10.341,10.345],
[52.7,10.299,10.306,10.313,10.319,10.326,10.332,10.339,10.345,10.267],
[53.2,10.304,10.311,10.318,10.325,10.331,10.338,10.344,10.349],
[53.7,10.302,10.308,10.315,10.322,10.328,10.335,10.341,10.347,10.357],
[54.2,10.307,10.314,10.320,10.327,10.334,10.340,10.347,10.352],
[54.7,10.308,10.315,10.323,10.330,10.335,10.341,10.348,10.352],
[55.2,10.313,10.320,10.327,10.335,10.340,10.345,10.353,10.356],
[55.7,10.311,10.318,10.325,10.331,10.338,10.344,10.351,10.355],
[56.2,10.320,10.326,10.332,10.339,10.345,10.351,10.362,10.305,10.299],
[56.7,10.325,10.331,10.337,10.343,10.349,10.354],
[57.2,10.328,10.334,10.340,10.346,10.352]
];

const amByPanel = [am19, am20, am22];
const pmByPanel = [pm19, pm20, pm22];

// Expand [SZA, v1, v2, ...] rows into [SZA, v] points
function toPoints(rows) {
  const pts = [];
  rows.forEach(function (r) {
    for (let i = 1; i < r.length; i++) pts.push([r[0], r[i]]);
  });
  return pts;
}

const FONT = '"Liberation Sans", Arial, Helvetica, sans-serif';
const PANEL_LEFT = [63, 338, 613];
const PANEL_W = 270, PANEL_TOP = 60, PANEL_H = 439;
const X_RANGE = [12.3, 62.3];
const Y_RANGE = [10.0553, 10.3956];
const TICK_COLOR = '#3c3cc8';

const chart = echarts.init(document.getElementById('chart'), null, { renderer: 'svg' });

const grid = PANEL_LEFT.map(function (l) {
  return { left: l, top: PANEL_TOP, width: PANEL_W, height: PANEL_H, show: true,
           borderColor: '#b3b3b3', borderWidth: 1, backgroundColor: '#ffffff' };
});

const xAxis = PANEL_LEFT.map(function (l, i) {
  return {
    type: 'value', gridIndex: i, min: X_RANGE[0], max: X_RANGE[1],
    axisLine: { show: false },
    splitLine: { show: false },
    axisTick: { show: true, inside: true, length: 3, customValues: xTicks,
                lineStyle: { color: TICK_COLOR, width: 1 } },
    axisLabel: { show: true, customValues: xTicks, color: '#4d4d4d', fontSize: 15,
                 lineHeight: 15, fontFamily: FONT, margin: 1 }
  };
});

const yAxis = PANEL_LEFT.map(function (l, i) {
  return {
    type: 'value', gridIndex: i, min: Y_RANGE[0], max: Y_RANGE[1],
    axisLine: { show: false },
    splitLine: { show: false },
    axisTick: { show: i === 0, inside: true, length: 3, customValues: yTicks,
                lineStyle: { color: TICK_COLOR, width: 1 } },
    axisLabel: { show: i === 0, customValues: yTicks, color: '#4d4d4d', fontSize: 15,
                 fontFamily: FONT, margin: 2,
                 formatter: function (v) { return v.toFixed(1); } }
  };
});

const series = [];
panels.forEach(function (p, i) {
  // background grid lines of the panel, kept beneath the points
  series.push({
    type: 'scatter', xAxisIndex: i, yAxisIndex: i, data: [], z: 1, silent: true,
    markLine: {
      z: 1, silent: true, symbol: ['none', 'none'], animation: false,
      label: { show: false },
      lineStyle: { color: '#ebebeb', width: 1, type: 'solid' },
      emphasis: { disabled: true },
      data: xGridValues.map(function (v) { return { xAxis: v }; })
        .concat(yGridValues.map(function (v) { return { yAxis: v }; }))
    }
  });
  series.push({
    name: 'AM', type: 'scatter', xAxisIndex: i, yAxisIndex: i, z: 3, silent: true,
    large: false, progressive: 0, animation: false,
    symbol: 'circle', symbolSize: 5,
    itemStyle: { color: 'rgba(255,255,255,0)', borderColor: '#1a1a1a', borderWidth: 0.75 },
    data: toPoints(amByPanel[i])
  });
  series.push({
    name: 'PM', type: 'scatter', xAxisIndex: i, yAxisIndex: i, z: 4, silent: true,
    large: false, progressive: 0, animation: false,
    symbol: 'triangle', symbolSize: 7.5,
    itemStyle: { color: '#474747', borderColor: '#111111', borderWidth: 0.6 },
    data: toPoints(pmByPanel[i])
  });
});

const graphic = [
  { type: 'text', style: { text: 'LiCor', x: 473, y: 21, fontSize: 18, fontFamily: FONT,
             fill: '#1a1a1a', align: 'center', verticalAlign: 'middle' } },
  { type: 'text', style: { text: 'SZA', x: 473, y: 525, fontSize: 18.5, fontFamily: FONT,
             fill: '#1a1a1a', align: 'center', verticalAlign: 'middle' } },
  { type: 'text', x: 17, y: 281.5, rotation: Math.PI / 2,
    style: { text: 'Sensibilidad (uV/W/m²)', x: 0, y: 0, fontSize: 18.5, fontFamily: FONT,
             fill: '#1a1a1a', align: 'center', verticalAlign: 'middle' } },
  // legend keys
  { type: 'circle', shape: { cx: 910.5, cy: 272.5, r: 2.1 },
    style: { fill: 'none', stroke: '#1a1a1a', lineWidth: 0.75 } },
  { type: 'polygon', shape: { points: [[907.8, 288.6], [913.2, 288.6], [910.5, 283.8]] },
    style: { fill: '#474747', stroke: '#111', lineWidth: 0.6 } },
  { type: 'text', style: { text: 'AM', x: 916.5, y: 272, fontSize: 14.5, lineHeight: 13,
             fontFamily: FONT, fill: '#1a1a1a', verticalAlign: 'middle' } },
  { type: 'text', style: { text: 'PM', x: 916.5, y: 286.5, fontSize: 14.5, lineHeight: 13,
             fontFamily: FONT, fill: '#1a1a1a', verticalAlign: 'middle' } }
];
// facet strips
PANEL_LEFT.forEach(function (l, i) {
  graphic.push({ type: 'rect', shape: { x: l, y: 36, width: PANEL_W, height: 24 },
                 style: { fill: '#d9d9d9', stroke: '#b3b3b3', lineWidth: 1 } });
  graphic.push({ type: 'text', style: { text: panels[i], x: l + PANEL_W / 2, y: 48.5,
                 fontSize: 17, fontFamily: FONT, fill: '#1a1a1a',
                 align: 'center', verticalAlign: 'middle' } });
});

chart.setOption({
  animation: false,
  backgroundColor: '#ffffff',
  grid: grid,
  xAxis: xAxis,
  yAxis: yAxis,
  series: series,
  graphic: graphic
});
</script>
</body>
</html>
